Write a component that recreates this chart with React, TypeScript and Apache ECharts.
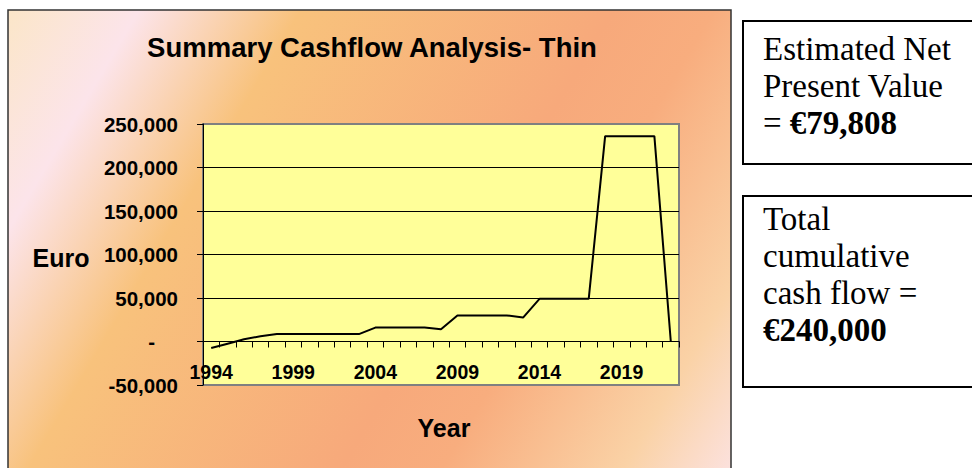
import React, { useEffect, useRef } from "react";
import * as echarts from "echarts";

const years = [
  "1994", "1995", "1996", "1997", "1998", "1999", "2000", "2001", "2002", "2003",
  "2004", "2005", "2006", "2007", "2008", "2009", "2010", "2011", "2012", "2013",
  "2014", "2015", "2016", "2017", "2018", "2019", "2020", "2021", "2022",
];
const cashflow = [
  -7500, -2500, 2500, 6000, 8500, 8500, 8500, 8500, 8500, 8500,
  16000, 16000, 16000, 16000, 14000, 30000, 30000, 30000, 30000, 27500,
  49000, 49000, 49000, 49000, 236000, 236000, 236000, 236000, 0,
];
const yMin = -50000;
const yMax = 250000;
const yStep = 50000;

const chartTitle = "Summary Cashflow Analysis- Thin";
const yName = "Euro";
const xName = "Year";
const npvLines = ["Estimated Net", "Present Value", "= {b|€79,808}"];
const totalLines = ["Total", "cumulative", "cash flow =", "{b|€240,000}"];

const SANS = "'Liberation Sans', Arial, sans-serif";
const SERIF = "'Liberation Serif', 'Times New Roman', serif";

export default function App() {
  const ref = useRef<HTMLDivElement>(null);

  useEffect(() => {
    if (!ref.current) return;
    const chart = echarts.init(ref.current, null, { renderer: "svg" });

    const bg = new echarts.graphic.LinearGradient(
      8, 10, 754, 453,
      [
        { offset: 0, color: "#FBE6C8" },
        { offset: 0.13, color: "#FCE4EA" },
        { offset: 0.29, color: "#F8C27C" },
        { offset: 0.6, color: "#F7A97B" },
        { offset: 0.7, color: "#F8AD7E" },
        { offset: 0.88, color: "#FAD2A6" },
        { offset: 1, color: "#FCE3E4" },
      ],
      true
    );

    const boxText = (lines: string[], y: number) => ({
      type: "text",
      x: 763,
      y,
      z: 10,
      style: {
        text: lines.join("\n"),
        fontFamily: SERIF,
        fontSize: 33,
        lineHeight: 37,
        fill: "#000",
        verticalAlign: "top",
        align: "left",
        rich: {
          b: { fontFamily: SERIF, fontSize: 33, lineHeight: 37, fontWeight: "bold", fill: "#000" },
        },
      },
    });

    const option: any = {
      animation: false,
      backgroundColor: "#ffffff",
      grid: {
        left: 203,
        top: 124,
        width: 476,
        height: 261,
        show: true,
        backgroundColor: "#FFFF99",
        borderColor: "#808080",
        borderWidth: 2,
      },
      xAxis: {
        type: "category",
        data: years,
        boundaryGap: true,
        axisLine: { show: true, onZero: true, lineStyle: { color: "#000", width: 1 } },
        axisTick: { show: true, interval: 0, length: 6, lineStyle: { color: "#000" } },
        axisLabel: {
          interval: 4,
          margin: -23.5,
          fontFamily: SANS,
          fontWeight: "bold",
          fontSize: 19.5,
          color: "#000",
        },
        splitLine: { show: false },
      },
      yAxis: {
        type: "value",
        min: yMin,
        max: yMax,
        interval: yStep,
        axisLine: { show: true, lineStyle: { color: "#000", width: 1 } },
        axisTick: { show: true, length: 6, lineStyle: { color: "#000" } },
        axisLabel: {
          margin: 25,
          fontFamily: SANS,
          fontWeight: "bold",
          fontSize: 20.5,
          color: "#000",
          formatter: (v: number) => (v === 0 ? "{d|-}" : v.toLocaleString("en-US")),
          rich: {
            d: {
              fontFamily: SANS,
              fontWeight: "bold",
              fontSize: 20.5,
              color: "#000",
              padding: [0, 23, 0, 0],
            },
          },
        },
        splitLine: {
          show: true,
          lineStyle: {
            color: ["#808080", "#000", "#000", "#000", "#000", "#000", "#808080"],
            width: 1,
          },
        },
      },
      series: [
        {
          type: "line",
          data: cashflow,
          symbol: "none",
          lineStyle: { color: "#000", width: 2 },
          z: 5,
        },
      ],
      graphic: [
        {
          type: "rect",
          z: -10,
          shape: { x: 8, y: 10, width: 723, height: 470 },
          style: { fill: bg, stroke: "#333", lineWidth: 1.5 },
        },
        {
          type: "text",
          x: 372,
          y: 47,
          z: 10,
          style: {
            text: chartTitle,
            fontFamily: SANS,
            fontWeight: "bold",
            fontSize: 27.5,
            fill: "#000",
            align: "center",
            verticalAlign: "middle",
          },
        },
        {
          type: "text",
          x: 61,
          y: 258,
          z: 10,
          style: {
            text: yName,
            fontFamily: SANS,
            fontWeight: "bold",
            fontSize: 25,
            fill: "#000",
            align: "center",
            verticalAlign: "middle",
          },
        },
        {
          type: "text",
          x: 444,
          y: 428,
          z: 10,
          style: {
            text: xName,
            fontFamily: SANS,
            fontWeight: "bold",
            fontSize: 25,
            fill: "#000",
            align: "center",
            verticalAlign: "middle",
          },
        },
        {
          type: "rect",
          z: 5,
          shape: { x: 743, y: 21, width: 240, height: 143 },
          style: { fill: "#fff", stroke: "#000", lineWidth: 2 },
        },
        {
          type: "rect",
          z: 5,
          shape: { x: 743, y: 196, width: 240, height: 191 },
          style: { fill: "#fff", stroke: "#000", lineWidth: 2 },
        },
        boxText(npvLines, 30.5),
        boxText(totalLines, 200.5),
      ],
    };

    chart.setOption(option);
    return () => chart.dispose();
  }, []);

  return (
    <div
      ref={ref}
      style={{ position: "fixed", left: 0, top: 0, width: 972, height: 468 }}
    />
  );
}
